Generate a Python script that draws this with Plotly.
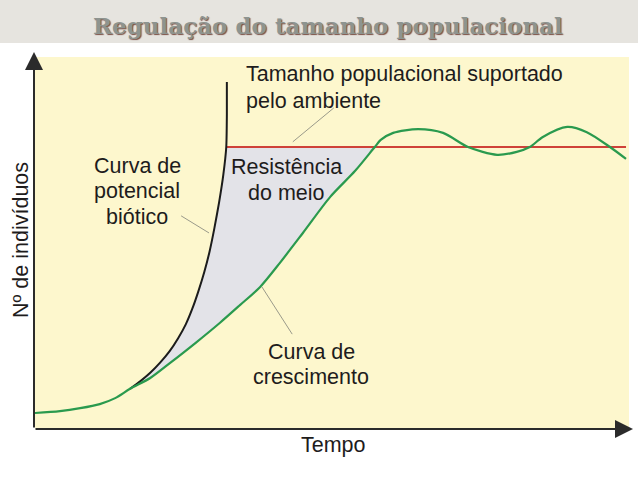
import plotly.graph_objects as go

# ---- data (x: tempo 0-100, y: nº de indivíduos 0-100) ----
growth_x = [0, 4.2, 7.6, 10.9, 13.5, 16.0, 19.4, 22.7, 27.0, 31.1, 34.5, 37.9, 41.2, 45.1,
            49.7, 53.9, 57.2, 58.2, 60.3, 64.5, 68.7, 72.9, 77.8, 81.1, 83.3, 85.5, 89.6,
            92.9, 96.8, 99.5]
growth_y = [4.3, 4.8, 5.6, 6.7, 8.3, 10.8, 13.7, 17.7, 23.1, 28.5, 33.3, 38.2, 44.6, 52.7,
            62.4, 69.4, 75.8, 77.7, 79.6, 80.6, 79.6, 75.8, 73.7, 74.5, 75.8, 78.5, 81.2,
            79.8, 75.8, 72.6]

biotic_x = [16.0, 17.7, 19.4, 21.1, 22.7, 24.1, 25.4, 26.5, 27.5, 28.5, 29.4, 30.2, 31.0, 31.7, 32.2, 32.3, 32.3]
biotic_y = [10.8, 12.8, 15.1, 17.9, 21.0, 24.4, 28.2, 32.4, 37.0, 42.2, 47.8, 54.0, 61.0, 68.3, 75.8, 84.4, 93.3]

capacity = 75.8
capacity_x = [32.2, 99.5]

# leader lines of the labels
leaders = [
    ([43.4, 50.3], [77.2, 86.3]),
    ([24.6, 29.3], [57.3, 52.7]),
    ([38.2, 43.3], [38.2, 25.5]),
]

TXT = "Liberation Sans, Arial, sans-serif"
TXTC = "#1e1c1c"
FS = 21.5

# fill region (resistência do meio) between biotic curve, capacity and growth curve
j0 = growth_x.index(16.0)
j1 = growth_y.index(capacity)
kb = biotic_y.index(capacity)
poly_x = biotic_x[:kb + 1] + growth_x[j0:j1 + 1][::-1]
poly_y = biotic_y[:kb + 1] + growth_y[j0:j1 + 1][::-1]

fig = go.Figure()
fig.add_trace(go.Scatter(x=poly_x, y=poly_y, fill="toself", fillcolor="#e3e3e8",
                         mode="lines", line=dict(width=0), hoverinfo="skip"))
fig.add_trace(go.Scatter(x=capacity_x, y=[capacity, capacity], mode="lines",
                         line=dict(color="#cf4239", width=2)))
fig.add_trace(go.Scatter(x=biotic_x, y=biotic_y, mode="lines", line_shape="spline",
                         line=dict(color="#1c1c1c", width=2, smoothing=0.6)))
fig.add_trace(go.Scatter(x=growth_x, y=growth_y, mode="lines", line_shape="spline",
                         line=dict(color="#2a9a4e", width=2.2, smoothing=0.8)))

for lx, ly in leaders:
    fig.add_trace(go.Scatter(x=lx, y=ly, mode="lines",
                             line=dict(color="#9a9a8a", width=1)))

shapes = [
    dict(type="rect", xref="paper", yref="paper", x0=-0.07, x1=1.03, y0=1.0376, y1=1.16,
         fillcolor="#e6e4df", line=dict(width=0), layer="below"),
]

annotations = []
def txt(s, x, y, xanchor="center", size=FS):
    annotations.append(dict(text=s, x=x, y=y, xref="x", yref="y", showarrow=False,
                            xanchor=xanchor, yanchor="middle",
                            font=dict(family=TXT, size=size, color=TXTC)))

txt("Tamanho populacional suportado", 35.2, 95.4, "left")
txt("pelo ambiente", 35.2, 88.2, "left")
txt("Curva de", 17.2, 70.7)
txt("potencial", 17.2, 64.0)
txt("biótico", 17.2, 57.0)
txt("Resistência", 42.4, 70.4)
txt("do meio", 42.4, 63.4)
txt("Curva de", 46.5, 20.7)
txt("crescimento", 46.5, 14.0)

# axis arrows (paper coords, pixel tails)
annotations.append(dict(x=(633 - 35) / 594, y=0, xref="paper", yref="paper",
                        ax=-(633 - 34), ay=0, axref="pixel", ayref="pixel",
                        showarrow=True, arrowhead=2, arrowsize=1.8, arrowwidth=2,
                        arrowcolor="#2b2b2b", text=""))
annotations.append(dict(x=-1 / 594, y=1 + (57 - 52) / 372, xref="paper", yref="paper",
                        ax=0, ay=(429 - 52), axref="pixel", ayref="pixel",
                        showarrow=True, arrowhead=2, arrowsize=1.8, arrowwidth=2,
                        arrowcolor="#2b2b2b", text=""))

annotations.append(dict(text="Tempo", x=(333 - 35) / 594, y=-(445 - 429) / 372,
                        xref="paper", yref="paper", showarrow=False,
                        xanchor="center", yanchor="middle",
                        font=dict(family=TXT, size=FS, color=TXTC)))
annotations.append(dict(text="Nº de indivíduos", x=-(35 - 21) / 594, y=(429 - 240) / 372,
                        xref="paper", yref="paper", showarrow=False, textangle=-90,
                        xanchor="center", yanchor="middle",
                        font=dict(family=TXT, size=FS, color=TXTC)))
annotations.append(dict(text="<b>Regulação do tamanho populacional</b>",
                        x=(328 - 35) / 594, y=1 + (57 - 25) / 372,
                        xref="paper", yref="paper", showarrow=False,
                        xanchor="center", yanchor="middle",
                        font=dict(family="DejaVu Serif, serif", size=23, color="#8e948f",
                                  shadow="1px 1px 1px #7a5045")))

fig.update_layout(
    width=638, height=478,
    margin=dict(l=35, r=9, t=57, b=49),
    paper_bgcolor="white", plot_bgcolor="#fdf7cd",
    showlegend=False,
    xaxis=dict(range=[0, 100], showgrid=False, zeroline=False, showticklabels=False,
               ticks="", fixedrange=True),
    yaxis=dict(range=[0, 100], showgrid=False, zeroline=False, showticklabels=False,
               ticks="", fixedrange=True),
    shapes=shapes, annotations=annotations,
)

fig.write_html("out.html")
